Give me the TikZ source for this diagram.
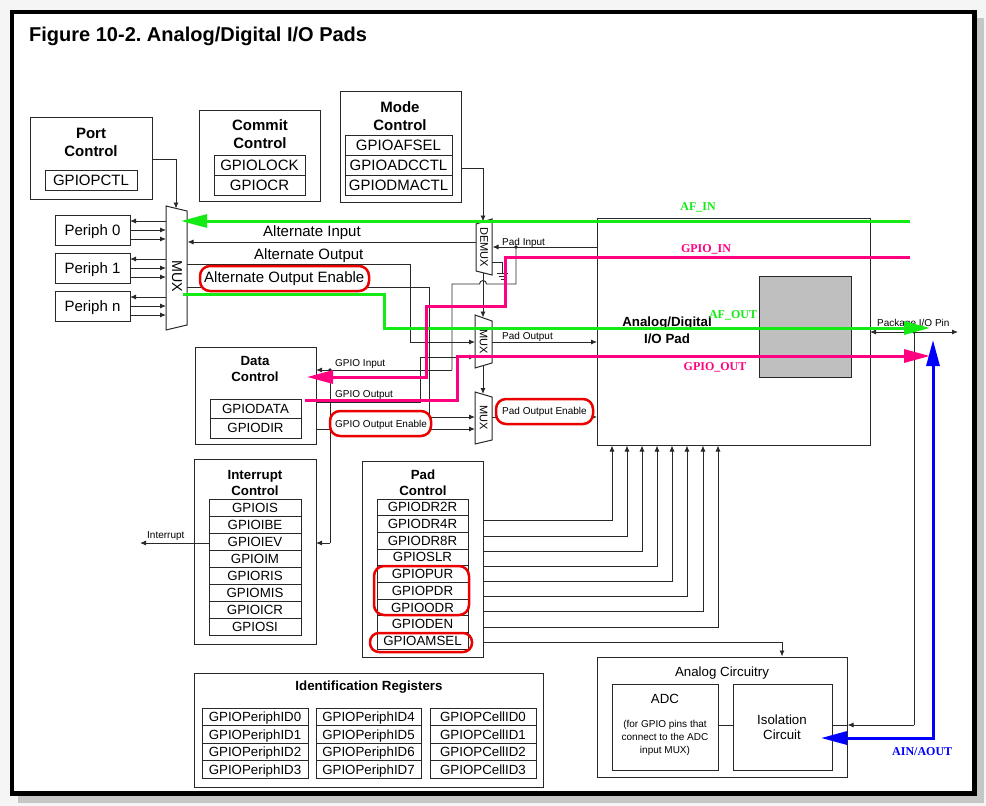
\documentclass[tikz,border=0pt]{standalone}
\usepackage{fontspec}
\setmainfont{Liberation Sans}
\newfontfamily\tmsfont{Liberation Serif}
\usetikzlibrary{arrows.meta}
\definecolor{agreen}{RGB}{20,235,20}
\definecolor{apink}{RGB}{255,0,128}
\definecolor{ablue}{RGB}{0,0,255}
\definecolor{ared}{RGB}{235,0,0}
\definecolor{aline}{RGB}{40,40,40}
\definecolor{padgray}{RGB}{191,191,191}
\frenchspacing
% [style]{name}{x1}{y1}{x2}{y2}{text}
\newcommand\rbox[7][]{%
  \pgfmathsetmacro\rbw{(#5)-(#3)}\pgfmathsetmacro\rbh{(#6)-(#4)}%
  \pgfmathsetmacro\rbx{((#3)+(#5))/2}\pgfmathsetmacro\rby{((#4)+(#6))/2}%
  \node[frame,minimum width=\rbw pt,minimum height=\rbh pt,#1] (#2) at (\rbx,\rby) {#7};}
\begin{document}
\begin{tikzpicture}[x=1pt,y=-1pt,
  frame/.style={draw=aline,line width=1pt,inner sep=0pt,outer sep=0pt,text depth=0pt},
  f15/.style={font=\fontsize{15}{18}\selectfont},
  f14/.style={font=\fontsize{14.3}{17}\selectfont},
  f13/.style={font=\fontsize{13.3}{16}\selectfont},
  f11/.style={font=\fontsize{11}{13}\selectfont},
  f10/.style={font=\fontsize{10}{12}\selectfont},
  b15/.style={font=\bfseries\fontsize{15}{18}\selectfont},
  b13/.style={font=\bfseries\fontsize{13.3}{16}\selectfont},
  clab/.style={font=\tmsfont\bfseries\fontsize{12}{14}\selectfont,inner sep=0pt,anchor=base},
  wire/.style={draw=aline,line width=0.9pt},
  arr/.style={wire,-{Latex[length=6pt,width=5pt]}},
  big/.style={line width=3pt,-{Triangle[length=26pt,width=13pt]}},
  oval/.style={draw=ared,line width=2.5pt,rounded corners=10pt},
  lab/.style={inner sep=0pt,anchor=base west,f10},
  ttl/.style={inner sep=0pt,anchor=base},
  dot/.style={fill=aline}
]
\useasboundingbox (0,0) rectangle (986,806);
\fill[gray!8] (0,0) rectangle (986,806);
\fill[gray!45] (18,18) rectangle (984,803);
\filldraw[fill=white,draw=black,line width=4.5pt] (12,12) rectangle (974.5,793.5);

\node[ttl,anchor=base west,font=\bfseries\fontsize{20}{24}\selectfont] (title) at (29,41) {Figure 10-2. Analog/Digital I/O Pads};

% ---------- Port control
\rbox{port}{30}{117}{152}{199}{}
\node[ttl,b15] (portT1) at (91,138) {Port};
\node[ttl,b15] (portT2) at (91,156) {Control};
\rbox[f15]{gpiopctl}{45}{170}{137}{190}{GPIOPCTL}

% ---------- Commit control
\rbox{commit}{199}{110}{320}{201}{}
\node[ttl,b15] (comT1) at (260,130) {Commit};
\node[ttl,b15] (comT2) at (260,148) {Control};
\rbox[f15]{gpiolock}{214}{155}{305}{175}{GPIOLOCK}
\rbox[f15]{gpiocr}{214}{175}{305}{195}{GPIOCR}

% ---------- Mode control
\rbox{mode}{340}{91}{461}{202}{}
\node[ttl,b15] (modT1) at (400,112) {Mode};
\node[ttl,b15] (modT2) at (400,130) {Control};
\rbox[f15]{afsel}{345}{135}{452}{155}{GPIOAFSEL}
\rbox[f15]{adcctl}{345}{155}{452}{175}{GPIOADCCTL}
\rbox[f15]{dmactl}{345}{175}{452}{195}{GPIODMACTL}

% ---------- Peripherals
\rbox[f15]{per0}{55}{215}{130}{245}{Periph 0}
\rbox[f15]{per1}{55}{253}{130}{283}{Periph 1}
\rbox[f15]{pern}{55}{291}{130}{321}{Periph n}

% ---------- MUXes
\draw[frame] (166,206) -- (187,211) -- (187,325) -- (166,330) -- cycle;
\node[f14,rotate=-90,inner sep=0pt] (muxL) at (177,276) {MUX};
\draw[frame] (476,224) -- (492,219) -- (492,275) -- (476,271) -- cycle;
\node[f11,rotate=-90,inner sep=0pt] (demux) at (484,247) {DEMUX};
\draw[frame] (475,315) -- (492,321) -- (492,363) -- (475,368) -- cycle;
\node[f11,rotate=-90,inner sep=0pt] (mux2) at (483.5,342) {MUX};
\draw[frame] (475,392) -- (492,397) -- (492,440) -- (475,444) -- cycle;
\node[f11,rotate=-90,inner sep=0pt] (mux3) at (483.5,418) {MUX};

% ---------- Pad
\rbox{pad}{597}{218}{870}{445}{}
\rbox[fill=padgray]{padcore}{759}{276}{851}{377}{}
\node[ttl,b13] (padT1) at (667,326) {Analog/Digital};
\node[ttl,b13] (padT2) at (667,343) {I/O Pad};

% ---------- Data control
\rbox{data}{195}{347}{316}{444}{}
\node[ttl,b13] (datT1) at (255,365) {Data};
\node[ttl,b13] (datT2) at (255,381) {Control};
\rbox[f13]{gpiodata}{210}{399}{301}{418}{GPIODATA}
\rbox[f13]{gpiodir}{210}{418}{301}{438}{GPIODIR}

% ---------- Interrupt control
\rbox{intc}{194}{459}{316}{644}{}
\node[ttl,b13] (intT1) at (255,479) {Interrupt};
\node[ttl,b13] (intT2) at (255,495) {Control};
\foreach \t [count=\i from 0] in {GPIOIS,GPIOIBE,GPIOIEV,GPIOIM,GPIORIS,GPIOMIS,GPIOICR,GPIOSI}{
  \pgfmathsetmacro\ya{499+17.1*\i}\pgfmathsetmacro\yb{\ya+17.1}
  \rbox[f13]{intr\i}{209}{\ya}{301}{\yb}{\t}}

% ---------- Pad control
\rbox{padc}{362}{461}{483}{657}{}
\node[ttl,b13] (pcT1) at (423,479) {Pad};
\node[ttl,b13] (pcT2) at (423,495) {Control};
\foreach \t [count=\i from 0] in {GPIODR2R,GPIODR4R,GPIODR8R,GPIOSLR,GPIOPUR,GPIOPDR,GPIOODR,GPIODEN,GPIOAMSEL}{
  \pgfmathsetmacro\ya{499+16.67*\i}\pgfmathsetmacro\yb{\ya+16.67}
  \rbox[f13]{pcr\i}{377}{\ya}{468}{\yb}{\t}}
\draw[oval] (374,566) rectangle (469,615);
\draw[oval,rounded corners=9pt] (370,633) rectangle (472,652);

% ---------- Analog circuitry
\rbox{analog}{597}{657}{847}{777}{}
\node[ttl,f13] (anT) at (722,676) {Analog Circuitry};
\rbox{adc}{612}{684}{718}{770}{}
\node[ttl,f13] (adcT) at (665,703) {ADC};
\node[ttl,f10] (adcL1) at (665,727) {(for GPIO pins that};
\node[ttl,f10] (adcL2) at (665,740) {connect to the ADC};
\node[ttl,f10] (adcL3) at (665,753) {input MUX)};
\rbox{iso}{733}{684}{832}{770}{}
\node[ttl,f13] (isoT1) at (782,724) {Isolation};
\node[ttl,f13] (isoT2) at (782,739) {Circuit};

% ---------- Identification registers
\rbox{idr}{194}{673}{543}{787}{}
\node[ttl,b13] (idT) at (369,690) {Identification Registers};
\foreach \c/\xa/\xb/\pre/\bs in {0/202/308/GPIOPeriphID/0,1/316/421/GPIOPeriphID/4,2/430/536/GPIOPCellID/0}{
  \foreach \r in {0,1,2,3}{
    \pgfmathtruncatemacro\num{\bs+\r}
    \pgfmathsetmacro\ya{708+17.5*\r}\pgfmathsetmacro\yb{\ya+17.5}
    \rbox[f13]{id\c\r}{\xa}{\ya}{\xb}{\yb}{\pre\num}}}

% ---------- black wires
\draw[arr] (port.east |- 0,159) -| (176,208.5);
\foreach \p/\y in {per0/215,per1/253,pern/291}{
  \draw[arr] (166,\y+6) -- (\p.east |- 0,\y+6);
  \draw[arr] (\p.east |- 0,\y+15) -- (166,\y+15);
  \draw[arr] (\p.east |- 0,\y+24) -- (166,\y+24);}
\draw[arr] (476,242) -- (187.5,242);
\draw[wire] (187,264) -- (410,264) -- (410,342);
\draw[arr] (410,342) -- (475,342);
\draw[wire] (187,287.5) -- (429,287.5) -- (429,417);
\draw[arr] (429,417) -- (475,417);
\draw[arr] (mode.east |- 0,168) -| (483,221.5);
\draw[arr] (483,273) -- (483,317.5);
\draw[arr] (483,366) -- (483,394);
\draw[arr] (pad.west |- 0,247) -- (492.5,247);
\fill[dot] (516,247) circle (1.8pt);
\draw[wire] (516,247) -- (516,284) -- (486.5,284) arc[start angle=0,end angle=180,radius=3.5pt] -- (452,284) -- (452,370);
\draw[arr] (452,370) -- (data.east |- 0,370);
\fill[dot] (330,370) circle (1.8pt);
\draw[wire] (330,370) -- (330,543);
\draw[arr] (330,543) -- (intc.east |- 0,543);
\draw[wire] (data.east |- 0,402) -- (420,402) -- (420,357);
\draw[arr] (420,357) -- (475,357);
\draw[arr] (data.east |- 0,429) -- (475,429);
\draw[arr] (492,342) -- (pad.west |- 0,342);
\draw[arr] (492,417) -- (pad.west |- 0,417);
\draw[wire] (492,262) -- (502,262) -- (502,273);
\draw[wire] (496.5,273) -- (507.5,273) (498.5,276) -- (505.5,276) (500.5,279) -- (503.5,279);
\draw[arr] (intr2.west |- 0,543) -- (140,543);
\foreach \yy/\xx in {520/612,536/627,551/642,566/657,581/672,596/687,611/703,627/718}
  \draw[arr] (padc.east |- 0,\yy) -| (\xx,445.5);
\draw[arr] (padc.east |- 0,642) -| (782,656.5);
\draw[wire] (adc.east |- 0,725) -- (iso.west |- 0,725);
\draw[wire] (iso.east |- 0,725) -- (analog.east |- 0,725);
\draw[{Latex[length=6pt,width=5pt]}-{Latex[length=6pt,width=5pt]},wire] (pad.east |- 0,332) -- (958,332);
\fill[dot] (914,332) circle (1.8pt);
\draw[wire] (914,332) -- (914,725);
\draw[arr] (914,725) -- (847.5,725);

% ---------- small labels
\node[lab,font=\fontsize{15}{18}\selectfont] (altin) at (263,236) {Alternate Input};
\node[lab,font=\fontsize{15}{18}\selectfont] (altout) at (254,259) {Alternate Output};
\node[lab] (padin) at (502,245) {Pad Input};
\node[lab] (padout) at (502,339) {Pad Output};
\node[lab] (gin) at (335,366) {GPIO Input};
\node[lab] (gout) at (335,397) {GPIO Output};
\node[lab] (intl) at (147,538) {Interrupt};
\node[lab] (pkg) at (877,326) {Package I/O Pin};

% ---------- red highlighted labels
\draw[oval,fill=white] (200,266) rectangle (369,291);
\node[lab,font=\fontsize{15}{18}\selectfont] (aoe) at (204,282) {Alternate Output Enable};
\draw[oval,fill=white] (330,411) rectangle (431,436);
\node[lab] (goe) at (335,427) {GPIO Output Enable};
\draw[oval,fill=white] (496,399) rectangle (593,424);
\node[lab] (poe) at (502,414) {Pad Output Enable};

% ---------- coloured signal paths
\draw[big,agreen] (910,221) -- (181,221);
\draw[big,agreen] (183,294) -- (384,294) -- (384,328) -- (930,328);
\draw[big,apink] (910,257) -- (505,257) -- (505,306) -- (426,306) -- (426,377) -- (307,377);
\draw[big,apink] (305,400) -- (457,400) -- (457,356) -- (930,356);
\draw[line width=3pt,ablue,{Triangle[length=26pt,width=13pt]}-{Triangle[length=26pt,width=13pt]}] (821,738) -- (933,738) -- (933,340);

\node[clab,agreen] (afin) at (698,210) {AF\_IN};
\node[clab,apink] (gpioin) at (706,252) {GPIO\_IN};
\node[clab,agreen] (afout) at (733,318) {AF\_OUT};
\node[clab,apink] (gpioout) at (715,370) {GPIO\_OUT};
\node[clab,ablue,anchor=base west] (ain) at (892,755) {AIN/AOUT};
\end{tikzpicture}
\end{document}
